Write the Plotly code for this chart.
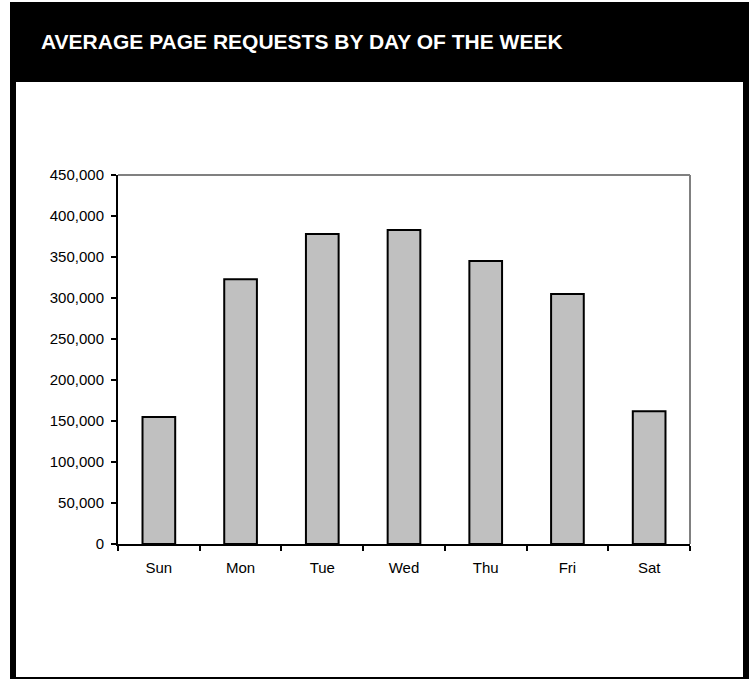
import plotly.graph_objects as go

days = ["Sun", "Mon", "Tue", "Wed", "Thu", "Fri", "Sat"]
requests = [155000, 323000, 378000, 383000, 345000, 305000, 162000]
y_ticks = [0, 50000, 100000, 150000, 200000, 250000, 300000, 350000, 400000, 450000]
title_text = "AVERAGE PAGE REQUESTS BY DAY OF THE WEEK"

W, H = 749, 679
L, R, T, B = 118, 690, 175, 544  # plot area in pixels


def px(x):
    return (x - L) / (R - L)


def py(y):
    return (B - y) / (B - T)


fig = go.Figure(
    go.Bar(
        x=days,
        y=requests,
        width=0.4,
        marker=dict(color="#c0c0c0", line=dict(color="black", width=2)),
    )
)

shapes = [
    # header band
    dict(type="rect", xref="paper", yref="paper", x0=px(10), x1=px(749), y0=py(2), y1=py(82),
         fillcolor="black", line=dict(width=0), layer="below"),
    # left border
    dict(type="rect", xref="paper", yref="paper", x0=px(10), x1=px(16), y0=py(2), y1=py(679),
         fillcolor="black", line=dict(width=0), layer="below"),
    # right border
    dict(type="rect", xref="paper", yref="paper", x0=px(743), x1=px(749), y0=py(2), y1=py(679),
         fillcolor="black", line=dict(width=0), layer="below"),
    # bottom border
    dict(type="rect", xref="paper", yref="paper", x0=px(10), x1=px(749), y0=py(677), y1=py(679),
         fillcolor="black", line=dict(width=0), layer="below"),
    # gray top and right frame
    dict(type="line", xref="paper", yref="paper", x0=0, x1=1, y0=1, y1=1,
         line=dict(color="#808080", width=2)),
    dict(type="line", xref="paper", yref="paper", x0=1, x1=1, y0=0, y1=1,
         line=dict(color="#808080", width=2)),
]

fig.update_layout(
    width=W,
    height=H,
    margin=dict(l=L, r=W - R, t=T, b=H - B, pad=0),
    paper_bgcolor="white",
    plot_bgcolor="white",
    showlegend=False,
    font=dict(family="Liberation Sans, Arial, sans-serif", size=15, color="black"),
    shapes=shapes,
    annotations=[
        dict(text=f"<b>{title_text}</b>", xref="paper", yref="paper", x=px(39), y=py(42),
             xanchor="left", yanchor="middle", showarrow=False,
             font=dict(family="Liberation Sans, Arial, sans-serif", size=21, color="white"))
    ],
    xaxis=dict(
        showgrid=False, showline=True, linecolor="black", linewidth=2,
        ticks="outside", tickson="boundaries", ticklen=5, tickwidth=2, tickcolor="black",
        tickfont=dict(size=15), ticklabelstandoff=9, fixedrange=True,
    ),
    yaxis=dict(
        range=[0, 450000], tickvals=y_ticks, tickformat=",d",
        showgrid=False, showline=True, linecolor="black", linewidth=2, zeroline=False,
        ticks="outside", ticklen=5, tickwidth=2, tickcolor="black",
        tickfont=dict(size=15), ticklabelstandoff=4, fixedrange=True,
    ),
)

fig.write_html(
    "out.html",
    config={"displayModeBar": False, "staticPlot": True},
    post_script="document.body.style.margin='0';document.body.style.overflow='hidden';",
)
